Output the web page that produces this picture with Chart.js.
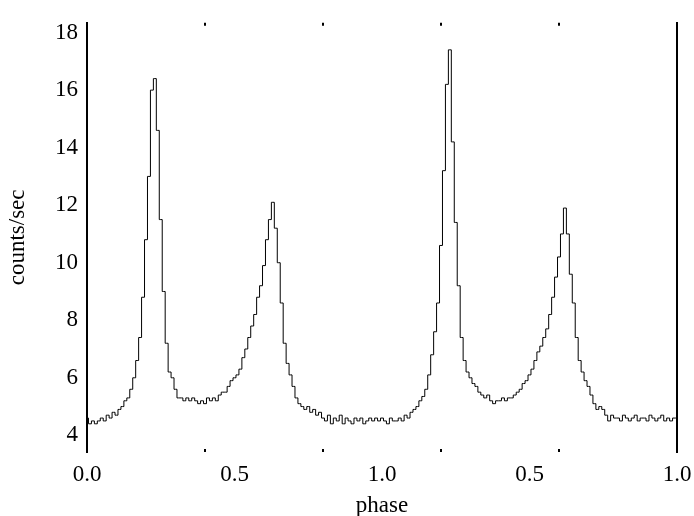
<!DOCTYPE html>
<html>
<head>
<meta charset="utf-8">
<script src="https://cdn.jsdelivr.net/npm/chart.js@4/dist/chart.umd.min.js"></script>
<style>
  body { margin: 0; background: #fff; }
  canvas { display: block; }
</style>
</head>
<body>
<canvas id="myChart" width="694" height="516"></canvas>
<script>
// counts/sec per phase bin, first cycle (phase 0.00 - 0.99)
const cycle1Counts = [
  4.6, 4.4, 4.5, 4.4, 4.5, 4.6, 4.5, 4.7, 4.6, 4.8,
  4.7, 4.9, 5.0, 5.2, 5.3, 5.6, 6.0, 6.6, 7.4, 8.8,
  10.8, 13.0, 16.0, 16.4, 14.6, 11.5, 9.0, 7.2, 6.2, 6.0,
  5.6, 5.3, 5.3, 5.2, 5.3, 5.2, 5.3, 5.2, 5.1, 5.2,
  5.1, 5.3, 5.2, 5.3, 5.2, 5.4, 5.5, 5.5, 5.7, 5.9,
  6.0, 6.1, 6.3, 6.7, 7.0, 7.4, 7.8, 8.2, 8.8, 9.2,
  9.9, 10.8, 11.5, 12.1, 11.2, 10.0, 8.6, 7.2, 6.5, 6.1,
  5.7, 5.3, 5.1, 5.0, 4.9, 5.0, 4.8, 4.9, 4.7, 4.8,
  4.6, 4.5, 4.7, 4.4, 4.6, 4.5, 4.7, 4.4, 4.6, 4.5,
  4.4, 4.6, 4.5, 4.6, 4.4, 4.5, 4.6, 4.5, 4.6, 4.5
];

// second cycle (phase 1.00 - 2.00)
const cycle2Counts = [
  4.6, 4.5, 4.4, 4.6, 4.5, 4.5, 4.6, 4.5, 4.7, 4.6,
  4.8, 4.9, 5.0, 5.2, 5.35, 5.6, 6.1, 6.8, 7.6, 8.6,
  10.6, 13.2, 16.2, 17.4, 14.2, 11.4, 9.2, 7.4, 6.6, 6.2,
  6.0, 5.8, 5.7, 5.5, 5.4, 5.3, 5.4, 5.2, 5.1, 5.2,
  5.2, 5.3, 5.2, 5.3, 5.3, 5.4, 5.5, 5.6, 5.8, 5.9,
  6.1, 6.3, 6.6, 6.9, 7.1, 7.4, 7.7, 8.2, 8.8, 9.5,
  10.2, 11.0, 11.9, 11.0, 9.6, 8.6, 7.4, 6.6, 6.2, 5.9,
  5.7, 5.4, 5.1, 4.9, 5.0, 4.9, 4.7, 4.5, 4.7, 4.6,
  4.6, 4.5, 4.7, 4.6, 4.5, 4.6, 4.7, 4.5, 4.6, 4.6,
  4.5, 4.7, 4.6, 4.5, 4.6, 4.7, 4.5, 4.6, 4.5, 4.6, 4.6
];

const binWidth = 0.01;

// x tick labels (phase restarts after 1.0)
const xLabelTicks = [0, 0.5, 1.0, 1.5, 2.0];
const xLabels = ['0.0', '0.5', '1.0', '0.5', '1.0'];
// small dots at top and bottom edges
const xDotTicks = [0.4, 0.8, 1.2, 1.6];

const yTicks = [4, 6, 8, 10, 12, 14, 16, 18];
const yMin = 3.42;
const yMax = 18.34;

// build the points from the bins
var points = [];
cycle1Counts.forEach(function (c, i) {
  points.push({ x: +(i * binWidth).toFixed(2), y: c });
});
cycle2Counts.forEach(function (c, i) {
  points.push({ x: +(1 + i * binWidth).toFixed(2), y: c });
});

var allXTicks = xLabelTicks.concat(xDotTicks).sort(function (a, b) { return a - b; });

var serif = { family: '"Liberation Serif", "Times New Roman", serif', size: 23 };

var ctx = document.getElementById('myChart').getContext('2d');
var chart = new Chart(ctx, {
  type: 'line',
  data: {
    datasets: [{
      data: points,
      borderColor: '#000',
      borderWidth: 1,
      pointRadius: 0,
      stepped: 'middle',
      fill: false
    }]
  },
  options: {
    responsive: false,
    animation: false,
    layout: { padding: { top: 15, left: 0, right: 0, bottom: 0 } },
    plugins: { legend: { display: false }, tooltip: { enabled: false } },
    scales: {
      x: {
        type: 'linear',
        min: 0,
        max: 2,
        afterBuildTicks: function (scale) {
          scale.ticks = allXTicks.map(function (v) { return { value: v }; });
        },
        afterFit: function (scale) {
          scale.height = 64;
          // edge labels may hang over the side axes
          scale.paddingLeft = 0;
          scale.paddingRight = 0;
        },
        ticks: {
          autoSkip: false,
          maxRotation: 0,
          padding: 9,
          color: '#000',
          font: serif,
          callback: function (value) {
            var k = xLabelTicks.indexOf(value);
            return k >= 0 ? xLabels[k] : '';
          }
        },
        grid: {
          drawTicks: false,
          lineWidth: 2,
          color: function (c) {
            return c.tick && xDotTicks.indexOf(c.tick.value) >= 0 ? '#000' : 'rgba(0,0,0,0)';
          }
        },
        border: {
          display: false,
          dash: function (c) {
            var h = c.chart.chartArea ? c.chart.chartArea.height : 437;
            return [3, h - 6, 3, 1000];
          }
        },
        title: {
          display: true,
          text: 'phase',
          color: '#000',
          font: serif,
          padding: { top: 0, bottom: -4 }
        }
      },
      y: {
        min: yMin,
        max: yMax,
        afterBuildTicks: function (scale) {
          scale.ticks = yTicks.map(function (v) { return { value: v }; });
        },
        afterFit: function (scale) { scale.width = 87; },
        ticks: { padding: 9, color: '#000', font: serif },
        grid: { display: false, drawTicks: false },
        border: { display: true, color: '#000', width: 2 },
        title: {
          display: true,
          text: 'counts/sec',
          color: '#000',
          font: serif,
          padding: { top: 4, bottom: 0 }
        }
      },
      y2: {
        position: 'right',
        min: yMin,
        max: yMax,
        afterFit: function (scale) { scale.width = 17; },
        ticks: { display: false },
        grid: { display: false, drawTicks: false },
        border: { display: true, color: '#000', width: 2 }
      }
    }
  }
});
</script>
</body>
</html>
